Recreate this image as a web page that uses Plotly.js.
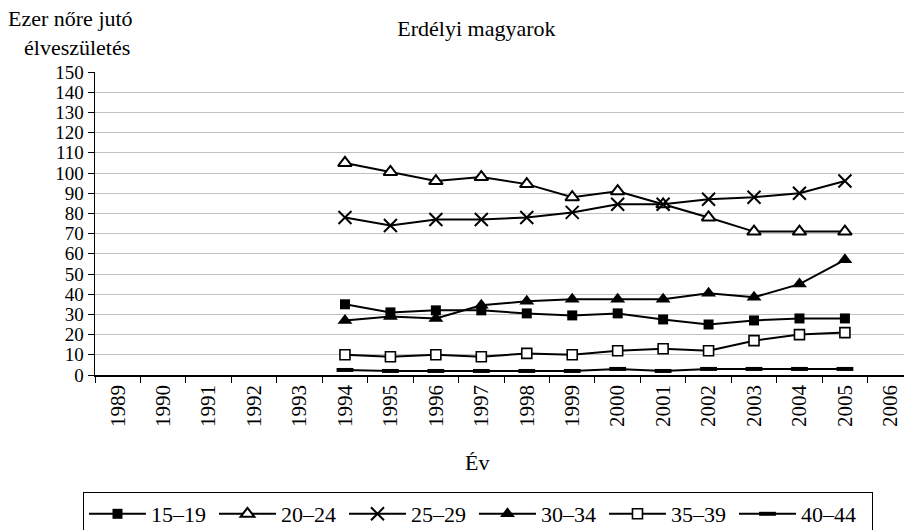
<!DOCTYPE html>
<html>
<head>
<meta charset="utf-8">
<script src="https://cdn.plot.ly/plotly-3.0.1.min.js"></script>
<style>html,body{margin:0;padding:0;background:#fff;}</style>
</head>
<body>
<div id="chart" style="width:904px;height:530px;"></div>
<script>
const years = ['1989','1990','1991','1992','1993','1994','1995','1996','1997','1998','1999','2000','2001','2002','2003','2004','2005','2006'];
const yTicks = [0,10,20,30,40,50,60,70,80,90,100,110,120,130,140,150];
const s15_19 = [null,null,null,null,null,35,31,32,32,30.5,29.5,30.5,27.5,25,27,28,28,null];
const s20_24 = [null,null,null,null,null,105,100.5,96,98,94.5,88,91,84.5,78,71,71,71,null];
const s25_29 = [null,null,null,null,null,78,74,77,77,78,80.5,84.5,84.5,87,88,90,96,null];
const s30_34 = [null,null,null,null,null,27,29,28,34.5,36.5,37.5,37.5,37.5,40.5,38.5,45,57,null];
const s35_39 = [null,null,null,null,null,10,9,10,9,10.7,10,12,13,12,17,20,21,null];
const s40_44 = [null,null,null,null,null,2.5,2,2,2,2,2,3,2,3,3,3,3,null];
const names = ['15–19','20–24','25–29','30–34','35–39','40–44'];

const FONT = 'Liberation Serif';
const FS = 22;
const lineStyle = {color:'#000', width:2};

const traces = [
  {y:s15_19, name:names[0], marker:{symbol:'square', size:10, color:'#000', line:{width:0}}},
  {y:s20_24, name:names[1], marker:{symbol:'triangle-up', size:12, color:'#fff', line:{color:'#000', width:2}}},
  {y:s25_29, name:names[2], marker:{symbol:'x-thin', size:13, color:'#000', line:{color:'#000', width:2}}},
  {y:s30_34, name:names[3], marker:{symbol:'triangle-up', size:13, color:'#000', line:{width:0}}},
  {y:s35_39, name:names[4], marker:{symbol:'square', size:10, color:'#fff', line:{color:'#000', width:1.6}}},
  {y:s40_44, name:names[5], legendwidth:66, marker:{symbol:'line-ew', size:12, color:'#000', line:{color:'#000', width:4}}}
].map(t => Object.assign({x:years, type:'scatter', mode:'lines+markers', line:lineStyle, connectgaps:false}, t));

const layout = {
  width:904, height:530,
  margin:{l:95, r:0, t:72, b:155},
  paper_bgcolor:'#fff', plot_bgcolor:'#fff',
  font:{family:FONT, size:FS, color:'#000'},
  title:{text:'Erdélyi magyarok', font:{family:FONT, size:FS, color:'#000'}, x:0.527, xanchor:'center', y:0.947, yanchor:'middle'},
  showlegend:true,
  legend:{orientation:'h', xref:'container', yref:'container', x:0.0918, xanchor:'left', y:0.0717, yanchor:'top',
          bordercolor:'#000', borderwidth:1, font:{family:FONT, size:FS, color:'#000'},
          itemwidth:57, entrywidth:58, entrywidthmode:'pixels', traceorder:'normal'},
  xaxis:{type:'category', categoryorder:'array', categoryarray:years, range:[-0.5,17.3],
         tickson:'boundaries', ticks:'outside', ticklen:6, tickcolor:'#000', tickwidth:1,
         tickangle:-90, tickfont:{family:FONT, size:21, color:'#000'},
         showline:true, linecolor:'#000', linewidth:1.5, showgrid:false, zeroline:false, fixedrange:true, automargin:false},
  yaxis:{range:[0,150], tickvals:yTicks, ticks:'outside', ticklen:6, tickcolor:'#000', tickwidth:1,
         tickfont:{family:FONT, size:19, color:'#000'},
         showline:true, linecolor:'#000', linewidth:1.5, showgrid:true, gridcolor:'#c0c0c0', gridwidth:1,
         zeroline:false, fixedrange:true, automargin:false},
  annotations:[
    {text:'Ezer nőre jutó', xref:'paper', yref:'paper', x:-0.03, y:1.178, xanchor:'center', yanchor:'middle', showarrow:false, font:{family:FONT, size:FS, color:'#000'}},
    {text:'élveszületés', xref:'paper', yref:'paper', x:-0.022, y:1.08, xanchor:'center', yanchor:'middle', showarrow:false, font:{family:FONT, size:FS, color:'#000'}},
    {text:'Év', xref:'paper', yref:'paper', x:0.472, y:-0.29, xanchor:'center', yanchor:'middle', showarrow:false, font:{family:FONT, size:FS, color:'#000'}}
  ]
};

Plotly.newPlot('chart', traces, layout, {displayModeBar:false, staticPlot:true});
</script>
</body>
</html>
